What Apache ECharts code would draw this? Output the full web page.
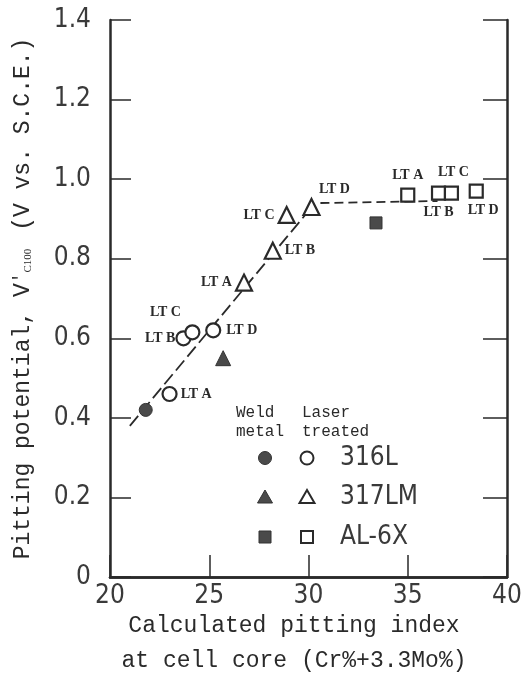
<!DOCTYPE html>
<html>
<head>
<meta charset="utf-8">
<script src="https://cdn.jsdelivr.net/npm/echarts@6/dist/echarts.min.js"></script>
<style>
  html, body { margin: 0; padding: 0; background: #fff; }
  #chart { width: 521px; height: 679px; }
</style>
</head>
<body>
<div id="chart"></div>
<script>
// Tick labels
const X_TICKS = ['20', '25', '30', '35', '40'];
const Y_TICKS = ['0', '0.2', '0.4', '0.6', '0.8', '1.0', '1.2', '1.4'];

// Specimen names for the laser-treated points
const SPECIMENS = ['LT A', 'LT B', 'LT C', 'LT D'];

// Alloys shown in the key
const ALLOYS = ['316L', '317LM', 'AL-6X'];

// Weld metal (filled symbols): [pitting index, pitting potential]
const WELD_316L = [[21.8, 0.42]];
const WELD_317LM = [[25.7, 0.55]];
const WELD_AL6X = [[33.4, 0.89]];

// Laser treated (open symbols)
const LASER_316L_X = [23.0, 23.7, 24.15, 25.2];
const LASER_316L_Y = [0.46, 0.60, 0.615, 0.62];
const LASER_317LM_X = [26.75, 28.2, 28.9, 30.15];
const LASER_317LM_Y = [0.74, 0.82, 0.91, 0.93];
const LASER_AL6X_X = [35.0, 36.55, 37.2, 38.45];
const LASER_AL6X_Y = [0.96, 0.965, 0.965, 0.97];

// Dashed trend lines
const TREND_RISE = [[21.0, 0.38], [30.0, 0.92]];
const TREND_PLATEAU = [[30.6, 0.94], [36.5, 0.945]];

// Where each specimen label sits around its symbol
const LABEL_PLACE = {
  '316L':  [{ position: 'right', distance: 3 }, { position: 'left', distance: 0 },
            { position: 'top', offset: [-27, 0] }, { position: 'right', distance: 5 }],
  '317LM': [{ position: 'left', distance: 3 }, { position: 'right', distance: 3 },
            { position: 'left', distance: 3 }, { position: 'top', offset: [23, 3] }],
  'AL-6X': [{ position: 'top', distance: 5 }, { position: 'bottom', distance: 5 },
            { position: 'top', offset: [2, -1] }, { position: 'bottom', offset: [7, 0] }]
};

const INK = '#2a2a2a';
const FILL = '#4a4a4a';
const NUM_FONT = "'DejaVu Sans Condensed', 'Liberation Sans Narrow', sans-serif";
const MONO = "'Liberation Mono', 'DejaVu Sans Mono', monospace";

function laserPoints(xs, ys, key) {
  return xs.map((x, i) => ({
    value: [x, ys[i]],
    name: SPECIMENS[i],
    label: Object.assign({}, LABEL_PLACE[key][i])
  }));
}

const pointLabel = {
  show: true,
  formatter: p => p.name,
  fontFamily: "'Liberation Serif', 'DejaVu Serif', serif",
  fontWeight: 'bold',
  fontSize: 14,
  color: INK
};

function openSeries(name, symbol, size, data) {
  return {
    name: name, type: 'scatter', symbol: symbol, symbolSize: size,
    itemStyle: { color: '#fff', borderColor: INK, borderWidth: 2.2, opacity: 1 },
    label: pointLabel, data: data, z: 5,
    emphasis: { disabled: true }
  };
}
function filledSeries(name, symbol, size, data) {
  return {
    name: name, type: 'scatter', symbol: symbol, symbolSize: size,
    itemStyle: { color: FILL, borderColor: '#333', borderWidth: 1, opacity: 1 },
    data: data, z: 5, emphasis: { disabled: true }
  };
}

// Key: two symbol columns (weld metal / laser treated) and the alloy names
function keyShapes() {
  const rows = [458, 497, 537];
  const cols = [265, 307];
  const out = [];
  const openStyle = { fill: '#fff', stroke: INK, lineWidth: 2 };
  const solidStyle = { fill: FILL, stroke: '#333', lineWidth: 1 };
  rows.forEach((cy, r) => {
    cols.forEach((cx, c) => {
      const style = c === 0 ? solidStyle : openStyle;
      if (r === 0) {
        out.push({ type: 'circle', shape: { cx: cx, cy: cy, r: 6.5 }, style: style });
      } else if (r === 1) {
        out.push({ type: 'polygon', shape: { points: [[cx, cy - 7], [cx + 7.5, cy + 6], [cx - 7.5, cy + 6]] }, style: style });
      } else {
        out.push({ type: 'rect', shape: { x: cx - 6, y: cy - 6, width: 12, height: 12 }, style: style });
      }
    });
    out.push({
      type: 'text', x: 340, y: cy,
      style: { text: ALLOYS[r], font: "26px " + NUM_FONT, fill: '#3a3a3a', verticalAlign: 'middle' }
    });
  });
  out.push({
    type: 'text', x: 236, y: 403,
    style: { text: 'Weld\nmetal', font: "16px " + MONO, fill: INK, lineHeight: 19 }
  });
  out.push({
    type: 'text', x: 302, y: 403,
    style: { text: 'Laser\ntreated', font: "16px " + MONO, fill: INK, lineHeight: 19 }
  });
  return out;
}

const chart = echarts.init(document.getElementById('chart'), null, { renderer: 'canvas' });

const axisLineStyle = { color: INK, width: 2.5 };

chart.setOption({
  animation: false,
  backgroundColor: '#fff',
  grid: { left: 110, right: 14, top: 20, bottom: 102, containLabel: false, outerBoundsMode: 'none' },
  xAxis: [{
    type: 'value', min: 20, max: 40, interval: 5,
    axisLine: { show: true, lineStyle: axisLineStyle },
    axisTick: { show: true, inside: true, length: 22, lineStyle: { color: INK, width: 1.5 } },
    splitLine: { show: false },
    axisLabel: {
      margin: 6, fontFamily: NUM_FONT, fontSize: 26, color: '#3a3a3a',
      formatter: (v) => X_TICKS[Math.round((v - 20) / 5)]
    },
    name: 'Calculated pitting index\nat cell core (Cr%+3.3Mo%)',
    nameLocation: 'middle', nameGap: 31, nameMoveOverlap: false,
    nameTextStyle: { fontFamily: MONO, fontSize: 23, color: INK, lineHeight: 35, padding: [0, 29, 0, 0] }
  }, {
    type: 'value', position: 'top', min: 20, max: 40, interval: 5,
    axisLine: { show: true, lineStyle: axisLineStyle },
    axisTick: { show: false }, axisLabel: { show: false }, splitLine: { show: false }
  }],
  yAxis: [{
    type: 'value', min: 0, max: 1.4, interval: 0.2,
    axisLine: { show: true, lineStyle: axisLineStyle },
    axisTick: { show: true, inside: true, length: 21, lineStyle: { color: INK, width: 1.5 } },
    splitLine: { show: false },
    axisLabel: {
      margin: 19, fontFamily: NUM_FONT, fontSize: 26, color: '#3a3a3a',
      formatter: (v) => Y_TICKS[Math.round(v / 0.2)]
    },
    name: 'Pitting potential, V{p|′}{sub|C100} (V vs. S.C.E.)',
    nameLocation: 'middle', nameRotate: 90, nameGap: 76, nameMoveOverlap: false,
    nameTextStyle: {
      fontFamily: MONO, fontSize: 23, color: INK,
      rich: {
        p: { fontFamily: MONO, fontSize: 18, color: INK, verticalAlign: 'top' },
        sub: { fontFamily: "'Liberation Serif', serif", fontSize: 11, color: INK, verticalAlign: 'bottom', padding: [8, 4, 0, 0] }
      }
    }
  }, {
    type: 'value', position: 'right', min: 0, max: 1.4, interval: 0.2,
    axisLine: { show: true, lineStyle: axisLineStyle },
    axisTick: { show: true, inside: true, length: 24, lineStyle: { color: INK, width: 1.5 } },
    axisLabel: { show: false }, splitLine: { show: false }
  }],
  graphic: keyShapes(),
  series: [
    {
      name: 'rise', type: 'line', data: TREND_RISE, symbol: 'none', z: 2,
      lineStyle: { color: INK, width: 1.8, type: [13, 5] }, emphasis: { disabled: true }
    },
    {
      name: 'plateau', type: 'line', data: TREND_PLATEAU, symbol: 'none', z: 2,
      lineStyle: { color: INK, width: 1.8, type: [9, 5] }, emphasis: { disabled: true }
    },
    filledSeries('Weld 316L', 'circle', 13, WELD_316L),
    filledSeries('Weld 317LM', 'triangle', 15, WELD_317LM),
    filledSeries('Weld AL-6X', 'rect', 12, WELD_AL6X),
    openSeries('316L', 'circle', 14, laserPoints(LASER_316L_X, LASER_316L_Y, '316L')),
    openSeries('317LM', 'triangle', 16, laserPoints(LASER_317LM_X, LASER_317LM_Y, '317LM')),
    openSeries('AL-6X', 'rect', 13, laserPoints(LASER_AL6X_X, LASER_AL6X_Y, 'AL-6X'))
  ]
});
</script>
</body>
</html>
